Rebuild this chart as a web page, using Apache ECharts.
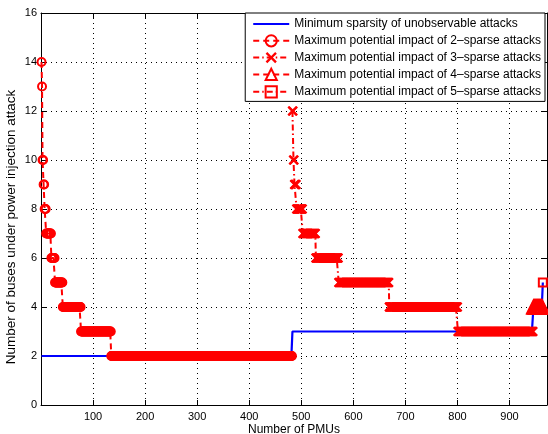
<!DOCTYPE html>
<html><head><meta charset="utf-8">
<script src="https://cdn.jsdelivr.net/npm/echarts@6/dist/echarts.min.js"></script>
<style>html,body{margin:0;padding:0;background:#fff}#c{width:548px;height:434px}</style>
</head><body><div id="c"></div>
<script>
// ---- data (step runs: first PMU count of each run, level of the run, last PMU count) ----
const seriesNames = [
  'Minimum sparsity of unobservable attacks',
  'Maximum potential impact of 2\u2013sparse attacks',
  'Maximum potential impact of 3\u2013sparse attacks',
  'Maximum potential impact of 4\u2013sparse attacks',
  'Maximum potential impact of 5\u2013sparse attacks'
];
const minSparsityStarts = [1, 483, 946, 964];
const minSparsityLevels = [2, 3, 4, 5];
const minSparsityLast = 964;

const sparse2Starts = [1, 2, 3, 5, 7, 10, 20, 27, 42, 77, 135];
const sparse2Levels = [14, 13, 10, 9, 8, 7, 6, 5, 4, 3, 2];
const sparse2Last = 482;

const sparse3Starts = [483, 485, 487, 491, 503, 528, 572, 669, 801];
const sparse3Levels = [12, 10, 9, 8, 7, 6, 5, 4, 3];
const sparse3Last = 945;

const sparse4Starts = [946];
const sparse4Levels = [4];
const sparse4Last = 963;

const sparse5Starts = [964];
const sparse5Levels = [5];
const sparse5Last = 964;

const xTickStep = 100;
const xMax = 972;
const yTickStep = 2;
const yMax = 16;

// one point per PMU count, value constant within each run
function expandRuns(starts, levels, last) {
  const pts = [];
  for (let i = 0; i < starts.length; i++) {
    const end = i + 1 < starts.length ? starts[i + 1] - 1 : last;
    for (let x = starts[i]; x <= end; x++) pts.push([x, levels[i]]);
  }
  return pts;
}

const FONT = 'Liberation Sans';
const RED = '#ff0000';
const BLUE = '#0000ff';
const XSYM = 'path://M0,1.5L1.5,0L5,3.5L8.5,0L10,1.5L6.5,5L10,8.5L8.5,10L5,6.5L1.5,10L0,8.5L3.5,5Z';

const chart = echarts.init(document.getElementById('c'), null, {renderer: 'canvas'});

function redSeries(name, data, symbol, size, dash, filled) {
  return {
    name, type: 'line', data, clip: false, z: 3,
    symbol, symbolSize: size, showSymbol: true, showAllSymbol: true,
    itemStyle: filled ? {color: RED, borderWidth: 0}
                      : {color: 'rgba(0,0,0,0)', borderColor: RED, borderWidth: 2},
    lineStyle: {color: RED, width: 2, type: dash},
    emphasis: {disabled: true},
    animation: false
  };
}

const option = {
  animation: false,
  backgroundColor: '#fff',
  grid: {left: 41, right: 1, top: 13, bottom: 29, containLabel: false, outerBoundsMode: 'none'},
  legend: {
    orient: 'vertical', right: 3, top: 13,
    itemWidth: 36, itemHeight: 14, itemGap: 4.2,
    padding: [5, 4, 3, 7],
    backgroundColor: '#fff', borderColor: '#000', borderWidth: 1,
    selectedMode: false,
    textStyle: {fontFamily: FONT, fontSize: 12, color: '#000'},
    data: [
      {name: seriesNames[0], itemStyle: {opacity: 0}},
      seriesNames[1], seriesNames[2], seriesNames[3], seriesNames[4]
    ]
  },
  xAxis: [{
    type: 'value', min: 0, max: xMax, interval: xTickStep,
    name: 'Number of PMUs', nameLocation: 'middle', nameGap: 19, nameMoveOverlap: false,
    nameTextStyle: {fontFamily: FONT, fontSize: 12, color: '#000'},
    axisLine: {show: true, onZero: false, lineStyle: {color: '#000', width: 1}},
    axisTick: {show: true, inside: true, length: 5, lineStyle: {color: '#000'}},
    axisLabel: {fontFamily: FONT, fontSize: 11, color: '#000', margin: 6,
      formatter: v => (v > 0 && v % xTickStep === 0) ? String(v) : ''},
    splitLine: {show: true, lineStyle: {color: '#000', width: 1, type: [1, 4]}}
  }, {
    type: 'value', min: 0, max: xMax, interval: xTickStep, position: 'top',
    axisLine: {show: true, onZero: false, lineStyle: {color: '#000', width: 1}},
    axisTick: {show: true, inside: true, length: 5, lineStyle: {color: '#000'}},
    axisLabel: {show: false}, splitLine: {show: false}
  }],
  yAxis: [{
    type: 'value', min: 0, max: yMax, interval: yTickStep,
    name: 'Number of buses under power injection attack', nameLocation: 'middle', nameGap: 23, nameMoveOverlap: false,
    nameTextStyle: {fontFamily: FONT, fontSize: 13.5, color: '#000', padding: [0, 36, 0, 0]},
    axisLine: {show: true, onZero: false, lineStyle: {color: '#000', width: 1}},
    axisTick: {show: true, inside: true, length: 5, lineStyle: {color: '#000'}},
    axisLabel: {fontFamily: FONT, fontSize: 11, color: '#000', margin: 4},
    splitLine: {show: true, lineStyle: {color: '#000', width: 1, type: [1, 4]}}
  }, {
    type: 'value', min: 0, max: yMax, interval: yTickStep, position: 'right',
    axisLine: {show: true, onZero: false, lineStyle: {color: '#000', width: 1}},
    axisTick: {show: true, inside: true, length: 5, lineStyle: {color: '#000'}},
    axisLabel: {show: false}, splitLine: {show: false}
  }],
  series: [
    {
      name: seriesNames[0], type: 'line', clip: false, z: 2,
      data: expandRuns(minSparsityStarts, minSparsityLevels, minSparsityLast),
      symbol: 'none', showSymbol: false,
      itemStyle: {color: BLUE},
      lineStyle: {color: BLUE, width: 2.2, type: 'solid'},
      emphasis: {disabled: true}
    },
    redSeries(seriesNames[1], expandRuns(sparse2Starts, sparse2Levels, sparse2Last), 'circle', 8, [6, 4], false),
    redSeries(seriesNames[2], expandRuns(sparse3Starts, sparse3Levels, sparse3Last), XSYM, 10, [6, 3, 1.5, 3], true),
    redSeries(seriesNames[3], expandRuns(sparse4Starts, sparse4Levels, sparse4Last), 'triangle', 13, [6, 4], false),
    redSeries(seriesNames[4], expandRuns(sparse5Starts, sparse5Levels, sparse5Last), 'rect', 8, [6, 3, 1.5, 3], false)
  ]
};
chart.setOption(option);
</script>
</body></html>
